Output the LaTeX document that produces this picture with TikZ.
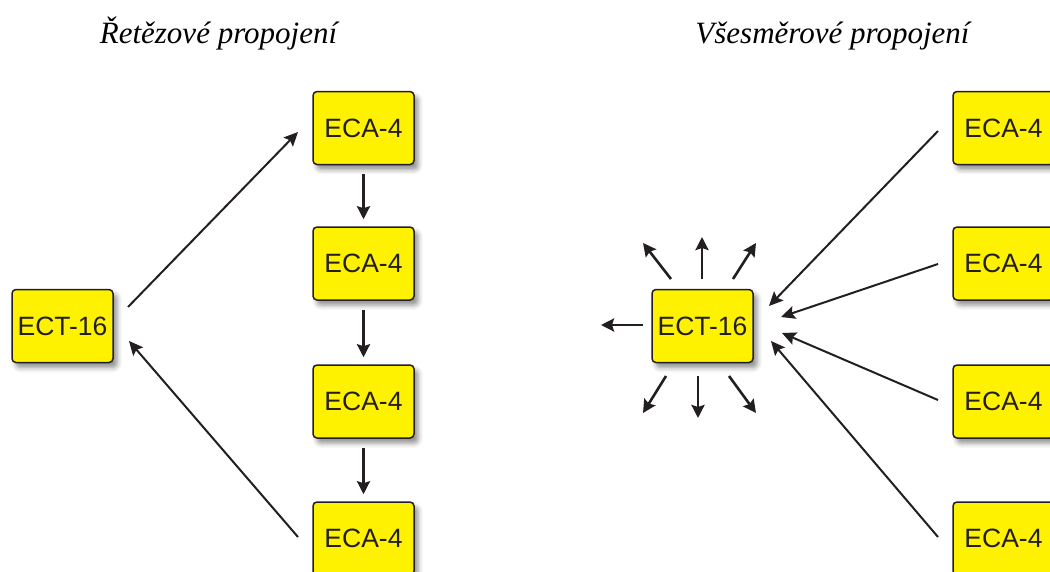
\documentclass[tikz,border=0pt]{standalone}
\usepackage{fontspec}
\setmainfont{Liberation Serif}
\setsansfont{Liberation Sans}
\usetikzlibrary{arrows.meta,shadows.blur}
\definecolor{boxyellow}{HTML}{FFF200}
\definecolor{ink}{HTML}{231F20}
\begin{document}
\begin{tikzpicture}[x=1pt,y=-1pt,
  unit/.style={draw=ink, line width=1.5pt, fill=boxyellow, rounded corners=4pt,
    minimum width=101pt, minimum height=73pt, inner sep=0pt,
    font=\sffamily\fontsize{26.5}{26.5}\selectfont, text=ink,
    blur shadow={shadow xshift=4pt, shadow yshift=-5pt, shadow blur radius=5pt, shadow opacity=45}},
  title/.style={font=\itshape\fontsize{31}{31}\selectfont, anchor=base},
  conn/.style={draw=ink, line width=2pt, -{Stealth[length=14pt,width=13pt,inset=2.5pt]}},
  ray/.style={draw=ink, line width=2.6pt, -{Stealth[length=13pt,width=13pt,inset=2pt]}}]
\useasboundingbox (0,0) rectangle (1050,571);
% titles
\node[title] (t1) at (218.5,43) {Řetězové propojení};
\node[title] (t2) at (832.5,43) {Všesměrové propojení};
% left: chain
\node[unit] (ct) at (62.5,326) {ECT-16};
\node[unit] (ca1) at (363.5,128) {ECA-4};
\node[unit] (ca2) at (363.5,263.5) {ECA-4};
\node[unit] (ca3) at (363.5,401.5) {ECA-4};
\node[unit] (ca4) at (363.5,538.5) {ECA-4};
\coordinate (cs1) at (128,307);
\coordinate (ce1) at (298,132);
\coordinate (cs4) at (298,537);
\coordinate (ce4) at (129,341);
\draw[conn] (cs1) -- (ce1);
\draw[conn] (cs4) -- (ce4);
\draw[ray, shorten <=9pt, shorten >=7pt] (ca1) -- (ca2);
\draw[ray, shorten <=9pt, shorten >=7pt] (ca2) -- (ca3);
\draw[ray, shorten <=9pt, shorten >=7pt] (ca3) -- (ca4);
% right: star
\node[unit] (st) at (702.5,326) {ECT-16};
\node[unit] (sa1) at (1003.5,128) {ECA-4};
\node[unit] (sa2) at (1003.5,263.5) {ECA-4};
\node[unit] (sa3) at (1003.5,401.5) {ECA-4};
\node[unit] (sa4) at (1003.5,538.5) {ECA-4};
% radial outputs
\coordinate (rls) at (643,325);  \coordinate (rle) at (601,325);
\coordinate (rus) at (702,279);  \coordinate (rue) at (702,237);
\coordinate (ruls) at (671,279); \coordinate (rule) at (643,243);
\coordinate (rurs) at (733,279); \coordinate (rure) at (756,243);
\coordinate (rds) at (698,376);  \coordinate (rde) at (698,418);
\coordinate (rdls) at (666,376); \coordinate (rdle) at (643,413);
\coordinate (rdrs) at (729,376); \coordinate (rdre) at (756,413);
\draw[ray] (rls) -- (rle);
\draw[ray] (rus) -- (rue);
\draw[ray] (ruls) -- (rule);
\draw[ray] (rurs) -- (rure);
\draw[ray] (rds) -- (rde);
\draw[ray] (rdls) -- (rdle);
\draw[ray] (rdrs) -- (rdre);
% converging inputs
\coordinate (ss1) at (938,131); \coordinate (se1) at (769,306);
\coordinate (ss2) at (938,264); \coordinate (se2) at (781,317);
\coordinate (ss3) at (938,400); \coordinate (se3) at (782,333);
\coordinate (ss4) at (938,537); \coordinate (se4) at (771,341);
\draw[conn] (ss1) -- (se1);
\draw[conn] (ss2) -- (se2);
\draw[conn] (ss3) -- (se3);
\draw[conn] (ss4) -- (se4);
\end{tikzpicture}
\end{document}
